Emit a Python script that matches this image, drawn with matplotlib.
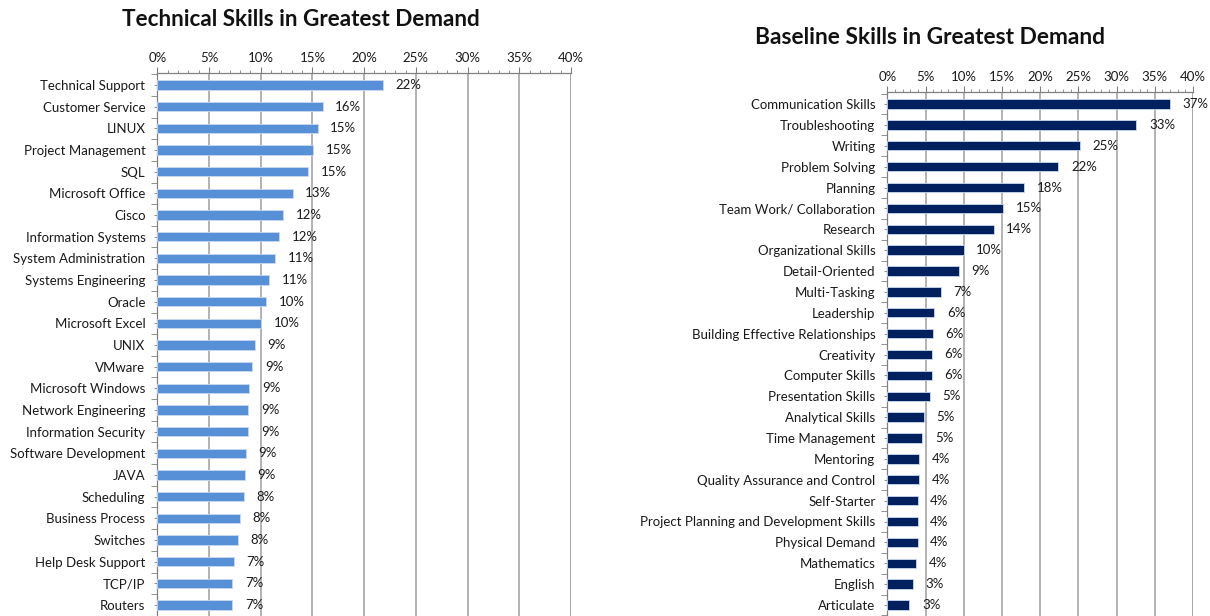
import matplotlib
matplotlib.use("Agg")
import matplotlib.pyplot as plt
from matplotlib.ticker import MultipleLocator, FixedLocator, FuncFormatter

plt.rcParams["font.family"] = ["Lato", "DejaVu Sans"]

# ------------------------------------------------------------
# dados
# ------------------------------------------------------------
tecnicas = [
    "Technical Support", "Customer Service", "LINUX", "Project Management",
    "SQL", "Microsoft Office", "Cisco", "Information Systems",
    "System Administration", "Systems Engineering", "Oracle", "Microsoft Excel",
    "UNIX", "VMware", "Microsoft Windows", "Network Engineering",
    "Information Security", "Software Development", "JAVA", "Scheduling",
    "Business Process", "Switches", "Help Desk Support", "TCP/IP", "Routers",
]
tecnicas_pct = [
    21.8, 16.0, 15.5, 15.05, 14.6, 13.1, 12.2, 11.8, 11.4, 10.8, 10.5, 10.05,
    9.4, 9.2, 8.9, 8.8, 8.8, 8.6, 8.5, 8.4, 8.0, 7.8, 7.4, 7.25, 7.25,
]
tecnicas_rotulos = [
    22, 16, 15, 15, 15, 13, 12, 12, 11, 11, 10, 10,
    9, 9, 9, 9, 9, 9, 9, 8, 8, 8, 7, 7, 7,
]

basicas = [
    "Communication Skills", "Troubleshooting", "Writing", "Problem Solving",
    "Planning", "Team Work/ Collaboration", "Research", "Organizational Skills",
    "Detail-Oriented", "Multi-Tasking", "Leadership",
    "Building Effective Relationships", "Creativity", "Computer Skills",
    "Presentation Skills", "Analytical Skills", "Time Management", "Mentoring",
    "Quality Assurance and Control", "Self-Starter",
    "Project Planning and Development Skills", "Physical Demand",
    "Mathematics", "English", "Articulate",
]
basicas_pct = [
    37.0, 32.6, 25.2, 22.4, 17.9, 15.2, 13.9, 10.0, 9.35, 7.0, 6.15,
    5.98, 5.8, 5.8, 5.6, 4.8, 4.6, 4.15, 4.15, 3.98, 3.98, 3.98,
    3.8, 3.3, 2.9,
]
basicas_rotulos = [
    37, 33, 25, 22, 18, 15, 14, 10, 9, 7, 6,
    6, 6, 6, 5, 5, 5, 4, 4, 4, 4, 4,
    4, 3, 3,
]

W, H = 1210, 616
COR_TECNICA = "#5890d8"
COR_BASICA = "#03205e"
COR_GRADE = "#a6a6a6"
COR_TEXTO = "#1a1a1a"


def caixa(x0, x1, topo, base):
    return [x0 / W, 1 - base / H, (x1 - x0) / W, (base - topo) / H]


def desenhar(fig, pos, nomes, valores, rotulos, cor, topo_frac, base_frac, altura):
    ax = fig.add_axes(pos)
    y = list(range(len(nomes)))
    ax.barh(y, valores, height=altura, color=cor, edgecolor="#c8d8f0",
            linewidth=0.6, zorder=3)

    ax.set_xlim(0, 40)
    ax.set_ylim(len(nomes) - 1 + base_frac, -topo_frac)

    ax.xaxis.tick_top()
    ax.xaxis.set_major_locator(MultipleLocator(5))
    ax.xaxis.set_minor_locator(MultipleLocator(1))
    ax.xaxis.set_major_formatter(FuncFormatter(lambda v, _: f"{v:.0f}%"))
    ax.tick_params(axis="x", which="major", direction="out", length=4,
                   width=0.8, color="#808080", labelsize=9.5, pad=2.5,
                   labelcolor=COR_TEXTO)
    ax.tick_params(axis="x", which="minor", direction="out", length=2.5,
                   width=0.6, color="#808080")

    ax.set_yticks(y)
    ax.set_yticklabels(nomes)
    ax.yaxis.set_minor_locator(FixedLocator([i - 0.5 for i in y] + [len(y) - 0.5]))
    ax.tick_params(axis="y", which="major", direction="inout", length=5,
                   width=0.6, color="#808080", labelsize=9.5, pad=6,
                   labelcolor=COR_TEXTO)
    ax.tick_params(axis="y", which="minor", direction="out", length=4,
                   width=0.6, color="#808080")

    ax.grid(axis="x", which="major", color=COR_GRADE, linewidth=1.2, zorder=0)
    for lado in ["right", "bottom"]:
        ax.spines[lado].set_visible(False)
    for lado in ["top", "left"]:
        ax.spines[lado].set_color("#808080")
        ax.spines[lado].set_linewidth(0.9)
    ax.axvline(40, color=COR_GRADE, linewidth=1.2, zorder=0)

    for yi, v, r in zip(y, valores, rotulos):
        ax.annotate(f"{r}%", (v, yi), xytext=(9, 0), textcoords="offset points",
                    va="center", ha="left", fontsize=9.5, color=COR_TEXTO)
    return ax


fig = plt.figure(figsize=(W / 100, H / 100), dpi=100)

n = len(tecnicas)
esp = (605 - 85) / (n - 1)
desenhar(fig, caixa(157.3, 571, 73, 616), tecnicas, tecnicas_pct,
         tecnicas_rotulos, COR_TECNICA, (85 - 73) / esp, (616 - 605) / esp, 0.42)

n = len(basicas)
esp = (605 - 104) / (n - 1)
desenhar(fig, caixa(887.3, 1193, 92, 616), basicas, basicas_pct,
         basicas_rotulos, COR_BASICA, (104 - 92) / esp, (616 - 605) / esp, 0.45)

fig.text(301 / W, 1 - 20 / H, "Technical Skills in Greatest Demand",
         ha="center", va="center", fontsize=16.2, fontweight="bold", color="#111111")
fig.text(930 / W, 1 - 38 / H, "Baseline Skills in Greatest Demand",
         ha="center", va="center", fontsize=16.4, fontweight="bold", color="#111111")

fig.savefig("out.png", dpi=100)
